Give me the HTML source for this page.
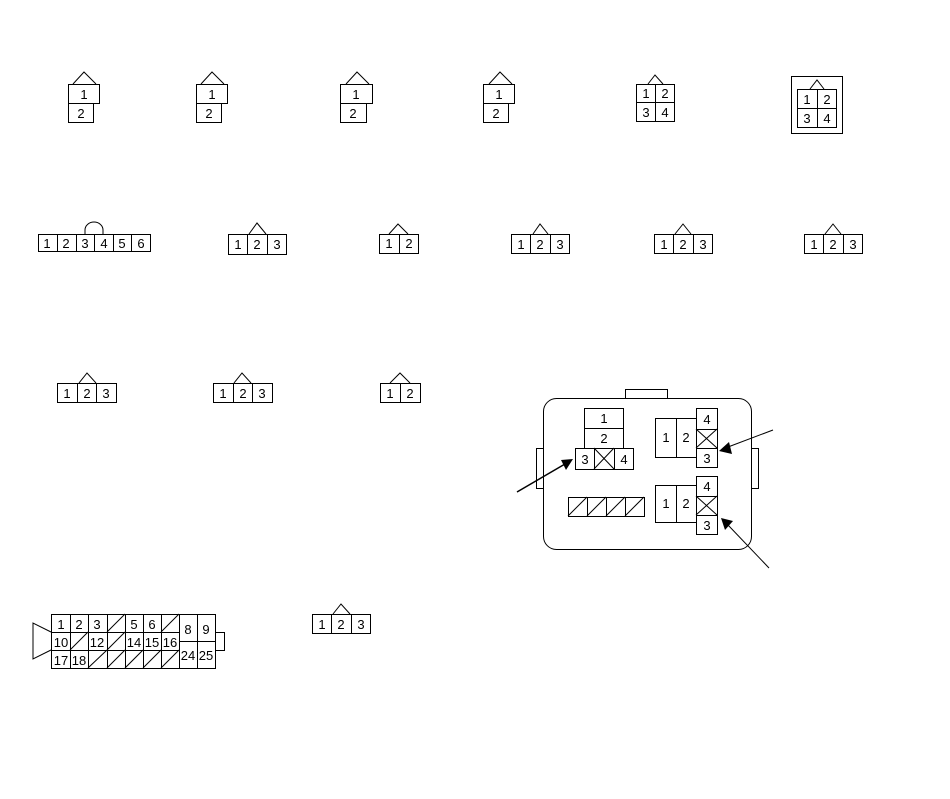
<!DOCTYPE html>
<html><head><meta charset="utf-8"><style>
html,body{margin:0;padding:0;background:#fff;}
svg{display:block;}
text{font-family:"Liberation Sans",sans-serif;font-size:13px;fill:#000;text-anchor:middle;}
</style></head><body>
<svg width="950" height="799" viewBox="0 0 950 799" xmlns="http://www.w3.org/2000/svg">
<g fill="none" stroke="#000" stroke-width="1" shape-rendering="crispEdges">
<!-- row 1: 2-pin vertical -->
<rect x="68.5" y="84.5" width="31" height="19"/><rect x="68.5" y="103.5" width="25" height="19"/>
<rect x="196.5" y="84.5" width="31" height="19"/><rect x="196.5" y="103.5" width="25" height="19"/>
<rect x="340.5" y="84.5" width="32" height="19"/><rect x="340.5" y="103.5" width="26" height="19"/>
<rect x="483.5" y="84.5" width="31" height="19"/><rect x="483.5" y="103.5" width="25" height="19"/>
<!-- 4-pin -->
<rect x="636.5" y="84.5" width="38" height="37"/><line x1="655.5" y1="84" x2="655.5" y2="122"/><line x1="636" y1="102.5" x2="675" y2="102.5"/>
<rect x="791.5" y="76.5" width="51" height="57"/>
<rect x="797.5" y="89.5" width="39" height="38"/><line x1="817.5" y1="89" x2="817.5" y2="128"/><line x1="797" y1="108.5" x2="837" y2="108.5"/>
<!-- row 2 -->
<rect x="38.5" y="234.5" width="112" height="17"/>
<line x1="57.5" y1="234" x2="57.5" y2="252"/><line x1="76.5" y1="234" x2="76.5" y2="252"/><line x1="94.5" y1="234" x2="94.5" y2="252"/><line x1="113.5" y1="234" x2="113.5" y2="252"/><line x1="131.5" y1="234" x2="131.5" y2="252"/>
<rect x="228.5" y="234.5" width="58" height="20"/><line x1="247.5" y1="234" x2="247.5" y2="255"/><line x1="267.5" y1="234" x2="267.5" y2="255"/>
<rect x="379.5" y="234.5" width="39" height="19"/><line x1="399.5" y1="234" x2="399.5" y2="254"/>
<rect x="511.5" y="234.5" width="58" height="19"/><line x1="530.5" y1="234" x2="530.5" y2="254"/><line x1="550.5" y1="234" x2="550.5" y2="254"/>
<rect x="654.5" y="234.5" width="58" height="19"/><line x1="673.5" y1="234" x2="673.5" y2="254"/><line x1="693.5" y1="234" x2="693.5" y2="254"/>
<rect x="804.5" y="234.5" width="58" height="19"/><line x1="823.5" y1="234" x2="823.5" y2="254"/><line x1="843.5" y1="234" x2="843.5" y2="254"/>
<!-- row 3 -->
<rect x="57.5" y="383.5" width="59" height="19"/><line x1="77.5" y1="383" x2="77.5" y2="403"/><line x1="96.5" y1="383" x2="96.5" y2="403"/>
<rect x="213.5" y="383.5" width="59" height="19"/><line x1="233.5" y1="383" x2="233.5" y2="403"/><line x1="252.5" y1="383" x2="252.5" y2="403"/>
<rect x="380.5" y="383.5" width="40" height="19"/><line x1="400.5" y1="383" x2="400.5" y2="403"/>
<!-- bottom small -->
<rect x="312.5" y="614.5" width="58" height="19"/><line x1="331.5" y1="614" x2="331.5" y2="634"/><line x1="351.5" y1="614" x2="351.5" y2="634"/>
<!-- big 25-pin -->
<rect x="51.5" y="614.5" width="164" height="54"/>
<line x1="51" y1="632.5" x2="179" y2="632.5"/><line x1="51" y1="650.5" x2="179" y2="650.5"/><line x1="179" y1="641.5" x2="216" y2="641.5"/>
<line x1="70.5" y1="614" x2="70.5" y2="668"/><line x1="88.5" y1="614" x2="88.5" y2="668"/><line x1="107.5" y1="614" x2="107.5" y2="668"/><line x1="125.5" y1="614" x2="125.5" y2="668"/><line x1="143.5" y1="614" x2="143.5" y2="668"/><line x1="161.5" y1="614" x2="161.5" y2="668"/><line x1="179.5" y1="614" x2="179.5" y2="668"/><line x1="197.5" y1="614" x2="197.5" y2="668"/>
<rect x="215.5" y="632.5" width="9" height="18"/>
<!-- housing pieces -->
<rect x="625.5" y="389.5" width="42" height="9"/>
<rect x="536.5" y="448.5" width="7" height="40"/>
<rect x="751.5" y="448.5" width="7" height="40"/>
<rect x="584.5" y="408.5" width="39" height="20"/><rect x="584.5" y="428.5" width="39" height="20"/>
<rect x="575.5" y="448.5" width="58" height="21"/><line x1="594.5" y1="448" x2="594.5" y2="470"/><line x1="614.5" y1="448" x2="614.5" y2="470"/>
<rect x="655.5" y="418.5" width="41" height="39"/><line x1="676.5" y1="418" x2="676.5" y2="458"/>
<rect x="696.5" y="408.5" width="21" height="59"/><line x1="696" y1="429.5" x2="718" y2="429.5"/><line x1="696" y1="448.5" x2="718" y2="448.5"/>
<rect x="655.5" y="485.5" width="41" height="37"/><line x1="676.5" y1="485" x2="676.5" y2="523"/>
<rect x="696.5" y="476.5" width="21" height="58"/><line x1="696" y1="496.5" x2="718" y2="496.5"/><line x1="696" y1="515.5" x2="718" y2="515.5"/>
<rect x="568.5" y="497.5" width="76" height="19"/><line x1="587.5" y1="497" x2="587.5" y2="517"/><line x1="606.5" y1="497" x2="606.5" y2="517"/><line x1="625.5" y1="497" x2="625.5" y2="517"/>
</g>
<g fill="none" stroke="#000" stroke-width="1">
<rect x="543.5" y="398.5" width="208" height="151" rx="13"/>
<!-- triangles -->
<polyline points="73,84 84,72 96,84"/><polyline points="201,84 212,72 224,84"/>
<polyline points="346,84 357,72 369,84"/><polyline points="489,84 500,72 512,84"/>
<polyline points="648,84 655,75 663,84"/><polyline points="810,89 817,80 824,89"/>
<path d="M85,234 V230 A9,8 0 0 1 103,230 V234"/>
<polyline points="249,234 257,223 266,234"/><polyline points="389,234 398,224 408,234"/>
<polyline points="533,234 540,224 548,234"/><polyline points="675,234 683,224 691,234"/>
<polyline points="825,234 833,224 841,234"/>
<polyline points="79,383 87,373 96,383"/><polyline points="234,383 242,373 251,383"/>
<polyline points="390,383 400,373 410,383"/><polyline points="333,614 341,604 350,614"/>
<polyline points="51,632 33,623 33,659 51,650"/>
<!-- slashes big connector -->
<line x1="107" y1="632" x2="125" y2="614"/><line x1="161" y1="632" x2="179" y2="614"/>
<line x1="70" y1="650" x2="88" y2="632"/><line x1="107" y1="650" x2="125" y2="632"/>
<line x1="88" y1="668" x2="107" y2="650"/><line x1="107" y1="668" x2="125" y2="650"/><line x1="125" y1="668" x2="143" y2="650"/><line x1="143" y1="668" x2="161" y2="650"/><line x1="161" y1="668" x2="179" y2="650"/>
<!-- X cells -->
<line x1="594" y1="448" x2="614" y2="469"/><line x1="614" y1="448" x2="594" y2="469"/>
<line x1="696" y1="429" x2="717" y2="448"/><line x1="717" y1="429" x2="696" y2="448"/>
<line x1="696" y1="496" x2="717" y2="515"/><line x1="717" y1="496" x2="696" y2="515"/>
<!-- hatch bar -->
<line x1="568" y1="516" x2="587" y2="497"/><line x1="587" y1="516" x2="606" y2="497"/><line x1="606" y1="516" x2="625" y2="497"/><line x1="625" y1="516" x2="644" y2="497"/>
<!-- arrows -->
<line x1="517" y1="492" x2="565" y2="464" stroke-width="1.5"/>
<line x1="773" y1="430" x2="728" y2="447"/>
<line x1="769" y1="568" x2="728" y2="525"/>
</g>
<g fill="#000">
<polygon points="573,459 561,460 566,470"/>
<polygon points="719,451 729,442 732,454"/>
<polygon points="721,518 733,521 725,530"/>
</g>
<g>
<text x="84" y="99">1</text><text x="81" y="118">2</text>
<text x="212" y="99">1</text><text x="209" y="118">2</text>
<text x="356" y="99">1</text><text x="353" y="118">2</text>
<text x="499" y="99">1</text><text x="496" y="118">2</text>
<text x="646" y="98">1</text><text x="665" y="98">2</text><text x="646" y="117">3</text><text x="665" y="117">4</text>
<text x="807" y="104">1</text><text x="827" y="104">2</text><text x="807" y="123">3</text><text x="827" y="123">4</text>
<text x="47" y="248">1</text><text x="66" y="248">2</text><text x="85" y="248">3</text><text x="104" y="248">4</text><text x="122" y="248">5</text><text x="141" y="248">6</text>
<text x="238" y="249">1</text><text x="257" y="249">2</text><text x="277" y="249">3</text>
<text x="389" y="248">1</text><text x="409" y="248">2</text>
<text x="521" y="249">1</text><text x="540" y="249">2</text><text x="560" y="249">3</text>
<text x="664" y="249">1</text><text x="683" y="249">2</text><text x="703" y="249">3</text>
<text x="814" y="249">1</text><text x="833" y="249">2</text><text x="853" y="249">3</text>
<text x="67" y="398">1</text><text x="87" y="398">2</text><text x="106" y="398">3</text>
<text x="223" y="398">1</text><text x="243" y="398">2</text><text x="262" y="398">3</text>
<text x="390" y="398">1</text><text x="410" y="398">2</text>
<text x="322" y="629">1</text><text x="341" y="629">2</text><text x="361" y="629">3</text>
<text x="61" y="629">1</text><text x="79" y="629">2</text><text x="97" y="629">3</text><text x="134" y="629">5</text><text x="152" y="629">6</text>
<text x="188" y="634">8</text><text x="206" y="634">9</text>
<text x="61" y="647">10</text><text x="97" y="647">12</text><text x="134" y="647">14</text><text x="152" y="647">15</text><text x="170" y="647">16</text>
<text x="188" y="660">24</text><text x="206" y="660">25</text>
<text x="61" y="665">17</text><text x="79" y="665">18</text>
<text x="604" y="423">1</text><text x="604" y="443">2</text>
<text x="585" y="464">3</text><text x="624" y="464">4</text>
<text x="666" y="442">1</text><text x="686" y="442">2</text>
<text x="707" y="424">4</text><text x="707" y="463">3</text>
<text x="666" y="508">1</text><text x="686" y="508">2</text>
<text x="707" y="491">4</text><text x="707" y="530">3</text>
</g>
</svg>
</body></html>
